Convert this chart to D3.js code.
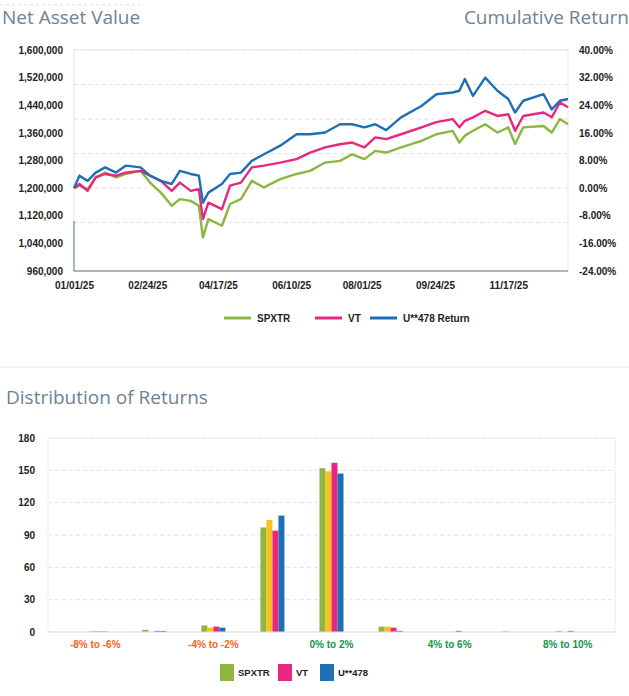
<!DOCTYPE html>
<html><head><meta charset="utf-8">
<script src="https://cdn.jsdelivr.net/npm/d3@7"></script>
<style>
body{margin:0;background:#fff;}
.tk{font-family:"Liberation Sans Narrow","Liberation Sans",sans-serif;font-weight:bold;font-size:10px;fill:#222;}
.ttl{font-family:"Open Sans",sans-serif;font-size:19px;fill:#6f8294;}
</style></head><body>
<div id="chart"></div>
<script>
// cumulative return in %, per day offset from 01/01/25
const navRows = [
 [0,0,0,0],[4,3.6,1.2,0.7],[10,2.1,-0.8,-0.3],[16,4.5,3.1,3.1],[23,6.0,4.1,4.5],
 [31,4.5,3.6,3.1],[38,6.5,4.5,4.1],[49,6.0,5.0,5.0],[56,3.6,3.6,1.6],[64,2.1,2.1,-1.3],
 [72,1.2,-0.8,-5.1],[78,5.0,1.6,-3.2],[86,4.1,-0.8,-3.7],[92,3.6,-0.3,-5.1],[95,-4.2,-9.0,-14.3],
 [99,-1.3,-4.2,-9.0],[109,1.2,-6.1,-10.9],[115,4.1,0.7,-4.6],[123,4.5,1.6,-3.2],[131,7.9,6.0,2.1],
 [140,9.8,6.5,0.2],[152,12.3,7.4,2.6],[164,15.6,8.4,4.1],[174,15.6,10.3,5.0],[185,16.1,11.8,7.4],
 [196,18.5,12.7,7.9],[205,18.5,13.2,9.8],[214,17.6,11.8,8.4],[222,18.5,14.7,10.8],[230,16.8,14.2,10.3],
 [241,20.5,15.6,11.8],[256,23.8,17.6,13.7],[267,27.2,19.1,15.6],[279,27.7,20.0,16.6],[284,28.2,17.6,13.2],
 [288,31.6,19.5,15.2],[294,26.7,20.5,16.6],[303,32.0,22.4,18.5],[312,28.2,20.9,16.1],[320,25.8,21.4,17.6],
 [325,21.9,16.6,12.8],[331,25.3,20.9,17.6],[346,27.2,21.9,18.0],[352,22.8,20.5,16.1],[358,25.3,24.8,20.0],
 [364,25.8,23.4,18.5]
];
const start = new Date(2025,0,1);
const series = [
  {name:"SPXTR", col:3, color:"#8cb63f"},
  {name:"VT", col:2, color:"#e8277f"},
  {name:"U**478 Return", col:1, color:"#1f6fb4"}
];

const dist = [
  {b:"-8% to -6%", v:[0,1,0.5,0.5]},
  {b:"-6% to -4%", v:[2,0,1,1]},
  {b:"-4% to -2%", v:[6,4,5,4]},
  {b:"-2% to 0%", v:[97,104,94,108]},
  {b:"0% to 2%", v:[152,149,157,147]},
  {b:"2% to 4%", v:[5,5,4,1]},
  {b:"4% to 6%", v:[0,0,0,1]},
  {b:"6% to 8%", v:[0,1,0,0]},
  {b:"8% to 10%", v:[1,0,1,0]}
];
const barColors = ["#8cb63f","#fbbf1e","#e8277f","#1f6fb4"];

const svg = d3.select("#chart").append("svg").attr("width",629).attr("height",696);

// separators
svg.append("line").attr("x1",0).attr("x2",140).attr("y1",5).attr("y2",5).attr("stroke","#ddd").attr("stroke-dasharray","3,3");
svg.append("line").attr("x1",0).attr("x2",629).attr("y1",367).attr("y2",367).attr("stroke","#e4e4e4");

svg.append("text").attr("class","ttl").attr("x",2).attr("y",24).text("Net Asset Value");
svg.append("text").attr("class","ttl").attr("x",629).attr("y",24).attr("text-anchor","end").text("Cumulative Return");

// ---- NAV chart
const x = d3.scaleTime().domain([start,new Date(2025,11,31)]).range([74,568]);
const y = d3.scaleLinear().domain([960000,1600000]).range([271,50]);
const yr = d3.scaleLinear().domain([-24,40]).range([271,50]);

const g1 = svg.append("g");
g1.append("g").selectAll("line").data(y.ticks(8).slice(1)).join("line")
  .attr("x1",74).attr("x2",568).attr("y1",d=>y(d)).attr("y2",d=>y(d))
  .attr("stroke","#e2e2e2").attr("stroke-dasharray","4,3");
g1.append("rect").attr("x",74).attr("y",50).attr("width",494).attr("height",221)
  .attr("fill","none").attr("stroke","#e6e6e6");

const yl = g1.append("g").attr("transform","translate(66,0)")
  .call(d3.axisLeft(y).tickValues(d3.range(960000,1600001,80000)).tickSize(0).tickFormat(d3.format(",")));
yl.select(".domain").remove(); yl.selectAll("text").attr("class","tk");
const yrg = g1.append("g").attr("transform","translate(576,0)")
  .call(d3.axisRight(yr).tickValues(d3.range(-24,41,8)).tickSize(0).tickFormat(d=>d.toFixed(2)+"%"));
yrg.select(".domain").remove(); yrg.selectAll("text").attr("class","tk");

const tickDates = ["2025-01-01","2025-02-24","2025-04-17","2025-06-10","2025-08-01","2025-09-24","2025-11-17"].map(s=>{const p=s.split("-");return new Date(+p[0],+p[1]-1,+p[2]);});
const xa = g1.append("g").attr("transform","translate(0,279)")
  .call(d3.axisBottom(x).tickValues(tickDates).tickSize(0).tickFormat(d3.timeFormat("%m/%d/%y")));
xa.select(".domain").remove(); xa.selectAll("text").attr("class","tk");
g1.append("line").attr("x1",74).attr("x2",568).attr("y1",271).attr("y2",271).attr("stroke","#5b7a99");
g1.append("line").attr("x1",74).attr("x2",74).attr("y1",221).attr("y2",271).attr("stroke","#5b7a99");

const line = col => d3.line()
  .x(r=>x(d3.timeDay.offset(start,r[0])))
  .y(r=>yr(r[col]));
series.forEach(s=>{
  g1.append("path").datum(navRows).attr("d",line(s.col))
    .attr("fill","none").attr("stroke",s.color).attr("stroke-width",2.4).attr("stroke-linejoin","round");
});

const lg = svg.append("g").attr("transform","translate(224,318)");
[["SPXTR",0,"#8cb63f"],["VT",91,"#e8277f"],["U**478 Return",146,"#1f6fb4"]].forEach(([n,o,c])=>{
  lg.append("line").attr("x1",o).attr("x2",o+27).attr("stroke",c).attr("stroke-width",3);
  lg.append("text").attr("class","tk").attr("x",o+33).attr("y",4).text(n);
});

// ---- distribution chart
svg.append("text").attr("class","ttl").attr("x",6).attr("y",404).text("Distribution of Returns");
const xb = d3.scaleBand().domain(dist.map(d=>d.b)).range([48,615]).paddingInner(0).paddingOuter(0.3);
const xi = d3.scaleBand().domain([0,1,2,3]).range([0,24]);
const yb = d3.scaleLinear().domain([0,180]).range([632,438]);

const g2 = svg.append("g");
g2.append("g").selectAll("line").data(d3.range(30,181,30)).join("line")
  .attr("x1",48).attr("x2",615).attr("y1",d=>yb(d)).attr("y2",d=>yb(d))
  .attr("stroke","#e2e2e2").attr("stroke-dasharray","4,3");
g2.append("rect").attr("x",48).attr("y",438).attr("width",567).attr("height",194)
  .attr("fill","none").attr("stroke","#ececec");
const yba = g2.append("g").attr("transform","translate(38,0)")
  .call(d3.axisLeft(yb).tickValues(d3.range(0,181,30)).tickSize(0));
yba.select(".domain").remove(); yba.selectAll("text").attr("class","tk");

dist.forEach(d=>{
  const gx = xb(d.b)+xb.bandwidth()/2-12;
  g2.append("g").selectAll("rect").data(d.v).join("rect")
    .attr("x",(v,i)=>gx+xi(i)).attr("width",xi.bandwidth())
    .attr("y",v=>yb(v)).attr("height",v=>yb(0)-yb(v))
    .attr("fill",(v,i)=>barColors[i]);
});
g2.append("line").attr("x1",48).attr("x2",615).attr("y1",632).attr("y2",632).attr("stroke","#dde");
g2.append("g").selectAll("text").data(dist.filter((d,i)=>i%2==0)).join("text")
  .attr("class","tk").attr("text-anchor","middle")
  .attr("x",d=>xb(d.b)+xb.bandwidth()/2).attr("y",648)
  .style("fill",d=>d.b.startsWith("-")?"#f26522":"#13964a").text(d=>d.b);

const lg2 = svg.append("g").attr("transform","translate(220,672)");
[["SPXTR",0,"#8cb63f"],["VT",58,"#e8277f"],["U**478",100,"#1f6fb4"]].forEach(([n,o,c])=>{
  lg2.append("rect").attr("x",o).attr("y",-8).attr("width",14).attr("height",17).attr("fill",c);
  lg2.append("text").attr("class","tk").attr("x",o+18).attr("y",4).style("font-size","9.5px").text(n);
});
</script>
</body></html>
